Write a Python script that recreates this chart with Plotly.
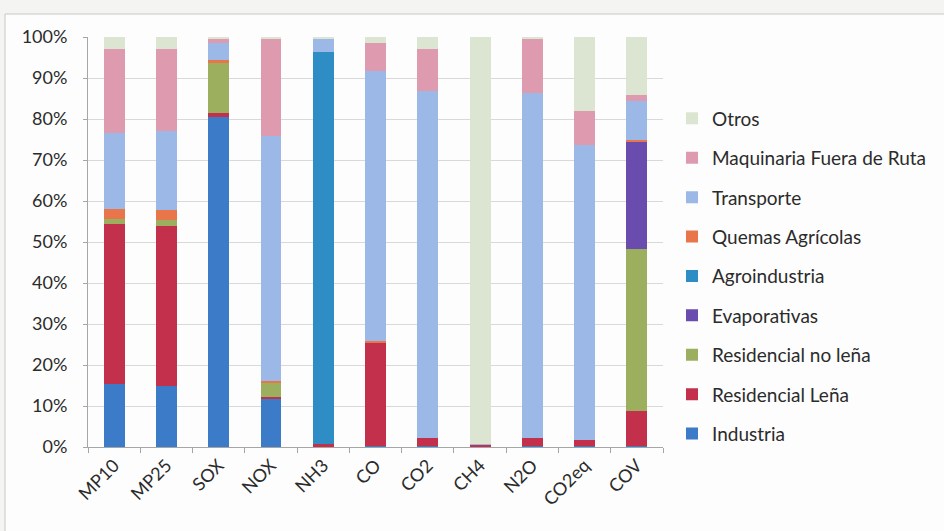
import plotly.graph_objects as go

categories = ["MP10", "MP25", "SOX", "NOX", "NH3", "CO", "CO2", "CH4", "N2O", "CO2eq", "COV"]

industria      = [15.3, 15.0, 80.5, 11.6, 0.1, 0.2, 0.2, 0.2, 0.2, 0.2, 0.2]
res_lena       = [39.0, 39.0, 1.0, 0.7, 0.7, 25.2, 2.0, 0.3, 2.0, 1.6, 8.7]
res_no_lena    = [1.3, 1.4, 12.2, 3.4, 0.0, 0.0, 0.0, 0.0, 0.0, 0.0, 39.3]
evaporativas   = [0.0, 0.0, 0.0, 0.0, 0.0, 0.0, 0.0, 0.0, 0.0, 0.0, 26.4]
agroindustria  = [0.0, 0.0, 0.0, 0.0, 95.5, 0.0, 0.0, 0.0, 0.0, 0.0, 0.0]
quemas         = [2.4, 2.4, 0.8, 0.3, 0.0, 0.5, 0.0, 0.0, 0.0, 0.0, 0.3]
transporte     = [18.7, 19.2, 4.0, 59.9, 3.2, 65.8, 84.6, 0.3, 84.2, 71.9, 9.4]
maquinaria     = [20.3, 20.0, 1.0, 23.6, 0.0, 6.8, 10.2, 0.0, 13.1, 8.3, 1.6]
otros          = [3.0, 3.0, 0.5, 0.5, 0.5, 1.5, 3.0, 99.2, 0.5, 18.0, 14.1]

series_names = ["Industria", "Residencial Leña", "Residencial no leña", "Evaporativas",
                "Agroindustria", "Quemas Agrícolas", "Transporte",
                "Maquinaria Fuera de Ruta", "Otros"]
series_values = [industria, res_lena, res_no_lena, evaporativas, agroindustria,
                 quemas, transporte, maquinaria, otros]
series_colors = ["#3B7BC8", "#C3304B", "#9BAF5E", "#6A4BAE", "#2E8DC4",
                 "#E8764A", "#9BB8E6", "#DE9BB0", "#DCE4D2"]

ytick_vals = [0, 10, 20, 30, 40, 50, 60, 70, 80, 90, 100]
ytick_text = ["0%", "10%", "20%", "30%", "40%", "50%", "60%", "70%", "80%", "90%", "100%"]

fig = go.Figure()
for i, (name, vals, col) in enumerate(zip(series_names, series_values, series_colors)):
    fig.add_trace(go.Bar(x=categories, y=vals, name=name, marker_color=col,
                         marker_line_width=0, legendgroup=name,
                         legendrank=1000 - i))

W, H = 944, 531
L, R, T, B = 88, 663, 37, 447

def px(x):
    return (x - L) / (R - L)

def py(y):
    return (B - y) / (B - T)

fig.update_layout(
    width=W, height=H,
    barmode="stack",
    bargap=0.6,
    paper_bgcolor="#F4F4F2",
    plot_bgcolor="white",
    margin=dict(l=L, r=W - R, t=T, b=H - B, autoexpand=False),
    font=dict(family="Lato, 'Open Sans', sans-serif", size=18, color="#2b2b2b"),
    legend=dict(
        traceorder="grouped",
        tracegroupgap=11.7,
        x=px(672), xanchor="left",
        y=py(99.5), yanchor="top",
        bgcolor="rgba(0,0,0,0)",
        font=dict(size=19, color="#2b2b2b"),
        itemclick=False,
    ),
    showlegend=True,
    shapes=[
        dict(type="rect", xref="paper", yref="paper",
             x0=px(5), x1=px(950), y0=py(14), y1=py(540),
             fillcolor="#FDFDFD", line=dict(color="#C8C8C8", width=1), layer="below"),
    ],
)

fig.update_yaxes(
    range=[0, 100],
    tickvals=ytick_vals, ticktext=ytick_text,
    showgrid=True, gridcolor="#D9D9D9", gridwidth=1,
    showline=True, linecolor="#A6A6A6", linewidth=1,
    ticks="outside", ticklen=4, tickcolor="#A6A6A6",
    ticklabelstandoff=12,
    tickfont=dict(size=18, color="#2b2b2b"),
    zeroline=False,
)
fig.update_xaxes(
    tickangle=-45,
    showline=True, linecolor="#A6A6A6", linewidth=1,
    ticks="outside", ticklen=5, tickcolor="#A6A6A6",
    tickson="boundaries",
    tickfont=dict(size=18, color="#2b2b2b"),
    showgrid=False,
)

fig.write_html("out.html", config={"displayModeBar": False},
               post_script="document.body.style.margin='0';document.body.style.overflow='hidden';")
